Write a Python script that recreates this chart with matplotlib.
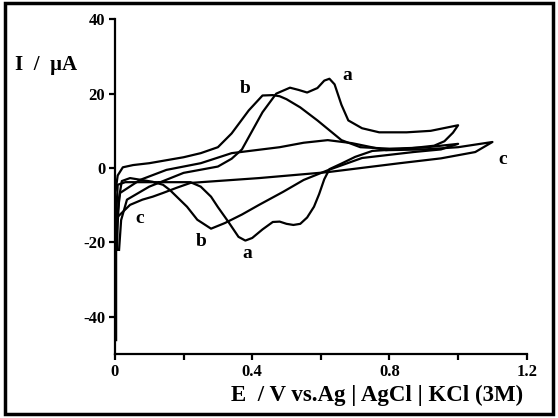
import matplotlib
matplotlib.use("Agg")
import matplotlib.pyplot as plt
from matplotlib.patches import Rectangle

plt.rcParams['font.family'] = ['Liberation Serif', 'DejaVu Serif']
plt.rcParams['font.weight'] = 'bold'

# Curve a: anodic then cathodic scan (E / V, I / uA)
a_E = [0.012, 0.018, 0.035, 0.10, 0.20, 0.30, 0.34, 0.37, 0.40, 0.43, 0.47, 0.51, 0.535, 0.56,
       0.59, 0.61, 0.625, 0.64, 0.66, 0.68, 0.72, 0.77, 0.85, 0.92, 1.00,
       0.985, 0.96, 0.93, 0.85, 0.75, 0.70, 0.66, 0.625, 0.61, 0.595, 0.58, 0.56, 0.54, 0.52,
       0.50, 0.48, 0.46, 0.43, 0.40, 0.38, 0.36, 0.33, 0.30, 0.28, 0.25, 0.22, 0.12, 0.03,
       0.008, 0.004, 0.002, 0.0]
a_I = [-22, -14, -8.5, -5, -1.3, 0.4, 2.5, 5, 10, 15, 20, 21.6, 21.0, 20.3,
       21.5, 23.5, 24, 22.5, 17, 12.8, 10.7, 9.6, 9.6, 10.0, 11.5,
       9.5, 7.2, 6.0, 5.2, 4.6, 3.0, 1.2, -0.3, -3, -7, -10.4, -13.3, -15.0, -15.3,
       -15.0, -14.4, -14.5, -16.5, -18.8, -19.5, -18.5, -14.4, -10.5, -7.7, -5, -3.8, -3.8, -3.8,
       -4.5, -12, -25, -46]

# Curve b
b_E = [0.002, 0.008, 0.023, 0.053, 0.10, 0.20, 0.25, 0.30, 0.34, 0.39, 0.43, 0.46, 0.48, 0.50,
       0.54, 0.59, 0.66, 0.715, 0.80, 0.90, 1.00,
       0.95, 0.87, 0.72, 0.62, 0.55, 0.49, 0.42, 0.37, 0.32, 0.28, 0.24, 0.21, 0.16, 0.14,
       0.11, 0.044, 0.02, 0.012, 0.008, 0.006]
b_I = [-6, -2, 0.2, 0.8, 1.3, 2.9, 4.0, 5.6, 9.3, 15.5, 19.5, 19.6, 19.3, 18.5,
       16.3, 12.8, 7.5, 5.6, 5.2, 5.5, 6.5,
       5.0, 4.3, 2.7, -0.6, -3.2, -6.4, -9.9, -12.5, -14.8, -16.3, -13.9, -10.4, -5.9, -4.5,
       -3.7, -2.7, -3.5, -8, -15, -22]

# Curve c (blank)
c_E = [0.004, 0.006, 0.044, 0.08, 0.11, 0.14, 0.18, 0.22, 0.42, 0.62, 0.83, 0.95, 1.05, 1.10,
       1.00, 0.90, 0.79, 0.69, 0.62, 0.55, 0.48, 0.34, 0.25, 0.15, 0.073, 0.015, 0.008, 0.004]
c_I = [-22, -13.3, -9.9, -8.5, -7.7, -6.7, -5.3, -4.0, -2.7, -1.1, 1.3, 2.6, 4.3, 7.0,
       5.6, 5.0, 4.8, 6.7, 7.5, 6.8, 5.6, 4.0, 1.3, -0.5, -3.2, -6.7, -12, -20]

labels = [
    ("a", 0.677, 24.8), ("b", 0.38, 21.3), ("c", 1.13, 2.4),
    ("c", 0.073, -13.6), ("b", 0.25, -19.7), ("a", 0.385, -23.0),
]

x_ticks = [0, 0.2, 0.4, 0.6, 0.8, 1.0, 1.2]
x_tick_labels = ["0", "", "0.4", "", "0.8", "", "1.2"]
y_ticks = [-40, -20, 0, 20, 40]
y_tick_labels = ["-40", "-20", "0", "20", "40"]

fig = plt.figure(figsize=(5.58, 4.18), dpi=100)
ax = fig.add_axes([0.206, 0.153, 0.738, 0.801])

for E, I in [(a_E, a_I), (b_E, b_I), (c_E, c_I)]:
    ax.plot(E, I, color='black', lw=1.6, solid_joinstyle='round')
# thick capacitive spike along the axis at 0 V
ax.plot([a_E[-1], a_E[-1]], [a_I[-3], a_I[-1]], color='black', lw=2.5)

for t, x, y in labels:
    ax.text(x, y, t, fontsize=14, fontweight='bold', ha='center', va='center')

ax.set_xlim(0, 1.2)
ax.set_ylim(-50, 40)
ax.set_xticks(x_ticks)
ax.set_xticklabels(x_tick_labels)
ax.set_yticks(y_ticks)
ax.set_yticklabels(y_tick_labels)
for s in ['top', 'right']:
    ax.spines[s].set_visible(False)
for s in ['left', 'bottom']:
    ax.spines[s].set_linewidth(1.6)
ax.tick_params(direction='out', length=4, width=1.6, labelsize=12, pad=3)
for lab in ax.get_xticklabels() + ax.get_yticklabels():
    lab.set_fontweight('bold')

fig.text(0.027, 0.845, "I  /  µA", fontsize=15, fontweight='bold', ha='left', va='center')
fig.text(0.676, 0.055, "E  / V vs.Ag | AgCl | KCl (3M)", fontsize=16.5, fontweight='bold',
         ha='center', va='center')

fig.patches.append(Rectangle((0.009, 0.009), 0.982, 0.984, transform=fig.transFigure,
                             fill=False, edgecolor='black', lw=2.5))

fig.savefig("out.png", dpi=100)
